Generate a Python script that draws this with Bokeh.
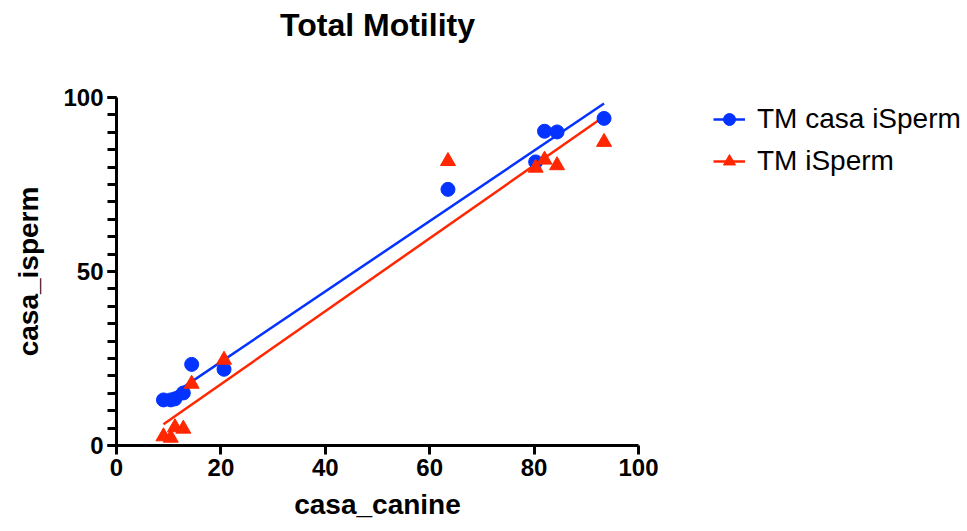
import numpy as np
from bokeh.plotting import figure
from bokeh.models import Range1d, FixedTicker, Legend, LegendItem, Title
from bokeh.embed import file_html
from bokeh.resources import INLINE

# Data
casa_canine = [9.0, 10.4, 11.2, 12.8, 14.4, 20.6, 63.5, 80.3, 82.0, 84.4, 93.4]
tm_casa_isperm = [13.1, 13.1, 13.4, 15.1, 23.3, 21.9, 73.6, 81.5, 90.3, 90.1, 94.0]
tm_isperm = [2.6, 2.2, 5.2, 4.8, 17.7, 24.6, 81.7, 79.8, 82.1, 80.5, 87.2]

x_ticks = [0, 20, 40, 60, 80, 100]
y_ticks = [0, 50, 100]
y_minor = list(range(0, 101, 5))

BLUE = "#0433FF"
RED = "#FF2600"
FONT = "Liberation Sans"

p = figure(frame_width=522, frame_height=348, output_backend="svg", toolbar_location=None,
           x_range=Range1d(0, 100), y_range=Range1d(0, 100),
           min_border_left=116, min_border_right=329, min_border_top=97, min_border_bottom=86)
p.outline_line_color = None
p.grid.visible = False
p.background_fill_color = "white"

# regression lines
xs = np.array(casa_canine)
fit_b = np.polyfit(xs, np.array(tm_casa_isperm), 1)
fit_r = np.polyfit(xs, np.array(tm_isperm), 1)
xl = [xs.min(), xs.max()]
lb = p.line(xl, [fit_b[0] * v + fit_b[1] for v in xl], line_color=BLUE, line_width=2.5)
lr = p.line(xl, [fit_r[0] * v + fit_r[1] for v in xl], line_color=RED, line_width=2.5)

sb = p.scatter(casa_canine, tm_casa_isperm, marker="circle", size=14, fill_color=BLUE, line_color=BLUE)
sr = p.scatter(casa_canine, tm_isperm, marker="triangle", size=15, fill_color=RED, line_color=RED)

# axes
for ax in (p.xaxis[0], p.yaxis[0]):
    ax.axis_line_width = 3
    ax.axis_line_color = "black"
    ax.major_tick_line_width = 3
    ax.minor_tick_line_width = 3
    ax.major_tick_out = 9
    ax.major_tick_in = 0
    ax.minor_tick_out = 9
    ax.minor_tick_in = 0
    ax.major_label_text_font = FONT
    ax.major_label_text_font_style = "bold"
    ax.major_label_text_font_size = "24px"
    ax.axis_label_text_font = FONT
    ax.axis_label_text_font_style = "bold"
    ax.axis_label_text_font_size = "28px"
    ax.major_label_text_color = "black"
    ax.axis_label_text_color = "black"

p.xaxis[0].ticker = FixedTicker(ticks=x_ticks, minor_ticks=[])
p.yaxis[0].ticker = FixedTicker(ticks=y_ticks, minor_ticks=y_minor)
p.xaxis[0].axis_label = "casa_canine"
p.yaxis[0].axis_label = "casa_isperm"
p.xaxis[0].major_label_standoff = 4
p.yaxis[0].major_label_standoff = 4
p.xaxis[0].axis_label_standoff = 10
p.yaxis[0].axis_label_standoff = 16

p.title.text = "Total Motility"
p.title.align = "center"
p.title.text_font = FONT
p.title.text_font_style = "bold"
p.title.text_font_size = "32px"
p.title.text_color = "black"
p.title.offset = 0
p.title.standoff = 0

# blank spacer between the title and the plot area
spacer = Title(text=" ", text_font_size="1px", standoff=52)
p.add_layout(spacer, "above")

legend = Legend(items=[LegendItem(label="TM casa iSperm", renderers=[lb, sb]),
                       LegendItem(label="TM iSperm", renderers=[lr, sr])],
                location=(75, 268))
legend.border_line_color = None
legend.background_fill_alpha = 0
legend.label_text_font = FONT
legend.label_text_font_size = "28px"
legend.label_text_color = "black"
legend.glyph_width = 32
legend.glyph_height = 30
legend.label_standoff = 12
legend.spacing = 10
legend.padding = 0
legend.margin = 0
p.add_layout(legend, "right")

open("out.html", "w").write(file_html(p, INLINE))
